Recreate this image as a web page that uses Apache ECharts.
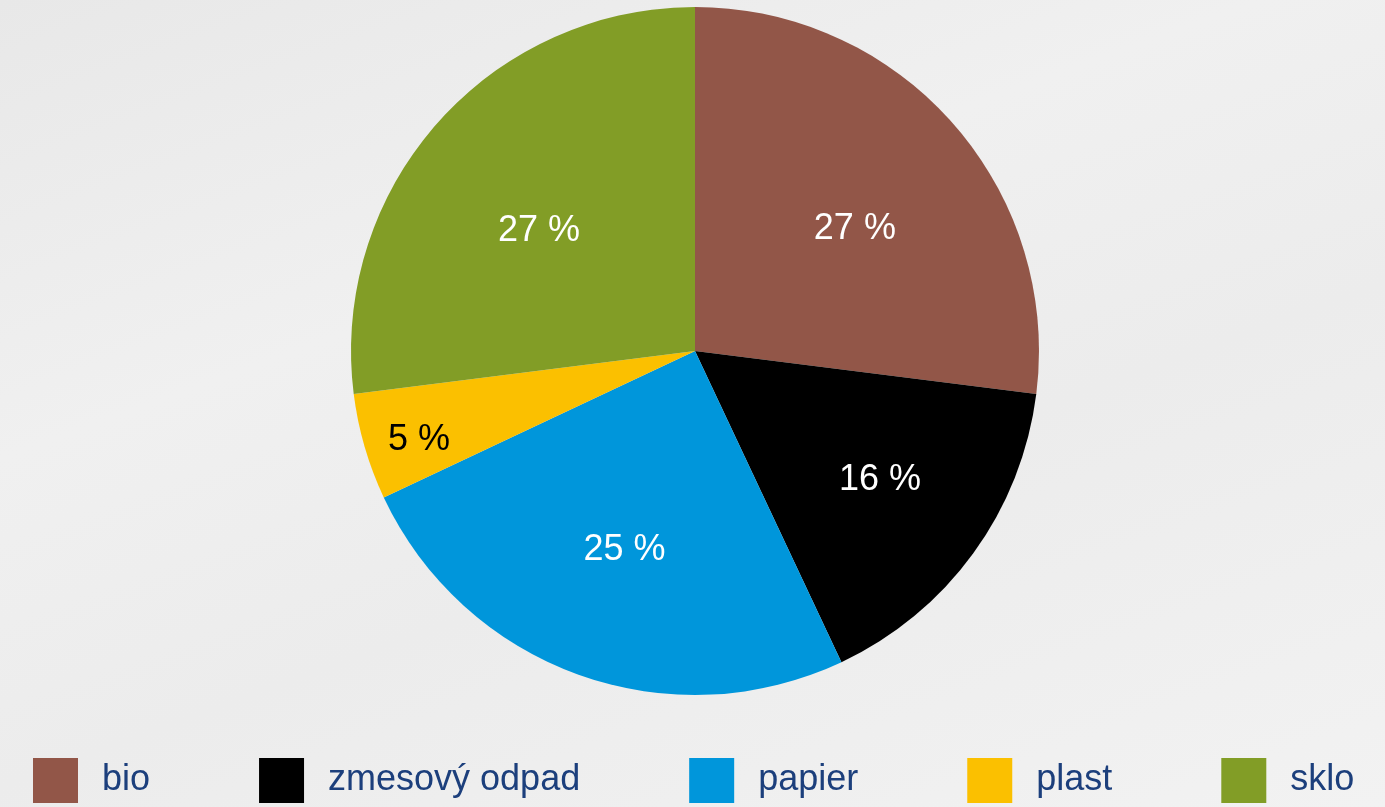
<!DOCTYPE html>
<html>
<head>
<meta charset="utf-8">
<script src="https://cdn.jsdelivr.net/npm/echarts@6/dist/echarts.min.js"></script>
<style>
  html, body {
    margin: 0;
    padding: 0;
    width: 100%;
    height: 100%;
    background: linear-gradient(160deg, #e8e8e8 0%, #f0f0f0 35%, #ececec 60%, #f2f2f2 100%);
  }
  #chart {
    width: 1385px;
    height: 807px;
  }
</style>
</head>
<body>
<div id="chart"></div>
<script>
// odpad – podiel zložiek
const categories = ['bio', 'zmesový odpad', 'papier', 'plast', 'sklo']
const shares = [27, 16, 25, 5, 27]
const colors = ['#925648', '#000000', '#0096db', '#fbc000', '#829d26']
const labelColors = ['#ffffff', '#ffffff', '#ffffff', '#000000', '#ffffff']
// label placement: share of the slice's sweep, and fraction of radius
const labelSweep = [0.536, 0.47, 0.5, 0.44, 0.468]
const labelRadius = [0.589, 0.651, 0.605, 0.84, 0.578]

const CENTER = [695, 351]
const RADIUS = 344

const chart = echarts.init(document.getElementById('chart'))

const total = shares.reduce((a, b) => a + b, 0)
const labelAngles = []
let acc = 0
shares.forEach((v, i) => {
  labelAngles.push(((acc + v * labelSweep[i]) / total) * 2 * Math.PI)
  acc += v
})

chart.setOption({
  animation: false,
  legend: {
    top: 758,
    left: 33,
    padding: 0,
    icon: 'rect',
    itemWidth: 45,
    itemHeight: 45,
    itemGap: 109,
    selectedMode: false,
    textStyle: {
      color: '#1c3f7c',
      fontSize: 36,
      fontFamily: '"Liberation Sans", Arial, sans-serif',
      padding: [0, 0, 0, 19],
    },
    data: categories,
  },
  series: [
    {
      type: 'pie',
      center: CENTER,
      radius: [0, RADIUS],
      startAngle: 90,
      clockwise: true,
      silent: true,
      label: {
        show: true,
        position: 'inside',
        formatter: (p) => `${p.value} %`,
        fontSize: 36,
        fontFamily: '"Liberation Sans", Arial, sans-serif',
        align: 'center',
        verticalAlign: 'middle',
      },
      labelLine: { show: false },
      labelLayout: (params) => {
        const i = params.dataIndex
        const r = RADIUS * labelRadius[i]
        return {
          x: CENTER[0] + r * Math.sin(labelAngles[i]),
          // digits sit a little low in the em box
          y: CENTER[1] - r * Math.cos(labelAngles[i]) + 3,
          align: 'center',
          verticalAlign: 'middle',
        }
      },
      data: categories.map((name, i) => ({
        name,
        value: shares[i],
        itemStyle: { color: colors[i] },
        label: { color: labelColors[i] },
      })),
    },
  ],
})
</script>
</body>
</html>
